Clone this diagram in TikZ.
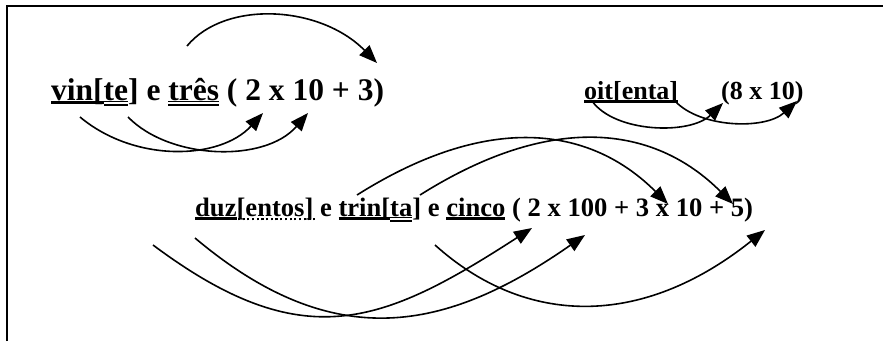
\documentclass[tikz,border=0pt]{standalone}
\usepackage{fontspec}
\setmainfont{Liberation Serif}
\usetikzlibrary{arrows.meta}
\newcommand\uone[1]{\setbox0\hbox{#1}\rlap{\rule[-4.3pt]{\wd0}{3pt}}\box0\relax}
\newcommand\utwo[1]{\setbox0\hbox{#1}\rlap{\rule[-2.4pt]{\wd0}{1.7pt}}\rlap{\rule[-5.6pt]{\wd0}{1.7pt}}\box0\relax}
\newcommand\udot[1]{\setbox0\hbox{#1}\rlap{\hbox to\wd0{\leaders\hbox to 4.7pt{\hss\rule[-4.3pt]{2.2pt}{2.8pt}\hss}\hfill}}\box0\relax}
\tikzset{
  txt/.style={inner sep=0pt, anchor=base west, font=\bfseries},
  arr/.style={line width=1.6pt, -{Triangle[length=18pt,width=14pt]}},
  frame/.style={line width=2pt}
}
\begin{document}
\begin{tikzpicture}[x=1pt,y=-1pt]
\useasboundingbox (0,0) rectangle (883,341);
% frame
\coordinate (fl) at (7,341);
\coordinate (fc) at (7,6);
\coordinate (fr) at (883,6);
\draw[frame] (fl) -- (fc) -- (fr);
% texts
\node[txt, font=\bfseries\fontsize{31.5}{36}\selectfont] (t1) at (51,100)
  {\uone{vin[}\utwo{te}] e \utwo{três} ( 2 x 10 + 3)};
\node[txt, font=\bfseries\fontsize{26}{30}\selectfont] (t2) at (584,99)
  {\uone{oit[enta]}};
\node[txt, font=\bfseries\fontsize{26}{30}\selectfont] (t3) at (721,99)
  {(8 x 10)};
\node[txt, font=\bfseries\fontsize{26.6}{30}\selectfont] (t4) at (195,216)
  {\uone{duz}\udot{[entos] }e \uone{trin[}\utwo{ta}] e \uone{cinco} ( 2 x 100 + 3 x 10 + 5)};
% arrow end points
\coordinate (a1) at (187,46);  \coordinate (a2) at (377,63);
\coordinate (b1) at (80,117);  \coordinate (b2) at (263,113);
\coordinate (c1) at (128,117); \coordinate (c2) at (308,113);
\coordinate (d1) at (592,101); \coordinate (d2) at (723,103);
\coordinate (e1) at (675,101); \coordinate (e2) at (797,101);
\coordinate (f1) at (153,245); \coordinate (f2) at (532,228);
\coordinate (g1) at (195,238); \coordinate (g2) at (585,235);
\coordinate (h1) at (357,195); \coordinate (h2) at (668,204);
\coordinate (i1) at (420,195); \coordinate (i2) at (733,204);
\coordinate (j1) at (435,245); \coordinate (j2) at (765,230);
% arrows
\draw[arr] (a1) .. controls (225,0) and (320,5) .. (a2);
\draw[arr] (b1) .. controls (135,163) and (220,160) .. (b2);
\draw[arr] (c1) .. controls (170,160) and (265,163) .. (c2);
\draw[arr] (d1) .. controls (615,133) and (690,135) .. (d2);
\draw[arr] (e1) .. controls (700,128) and (765,130) .. (e2);
\draw[arr] (f1) .. controls (303,357) and (382,325) .. (f2);
\draw[arr] (g1) .. controls (334,355) and (446,332) .. (g2);
\draw[arr] (h1) .. controls (487,113) and (589,125) .. (h2);
\draw[arr] (i1) .. controls (550,113) and (653,124) .. (i2);
\draw[arr] (j1) .. controls (525,326) and (641,329) .. (j2);
\end{tikzpicture}
\end{document}
